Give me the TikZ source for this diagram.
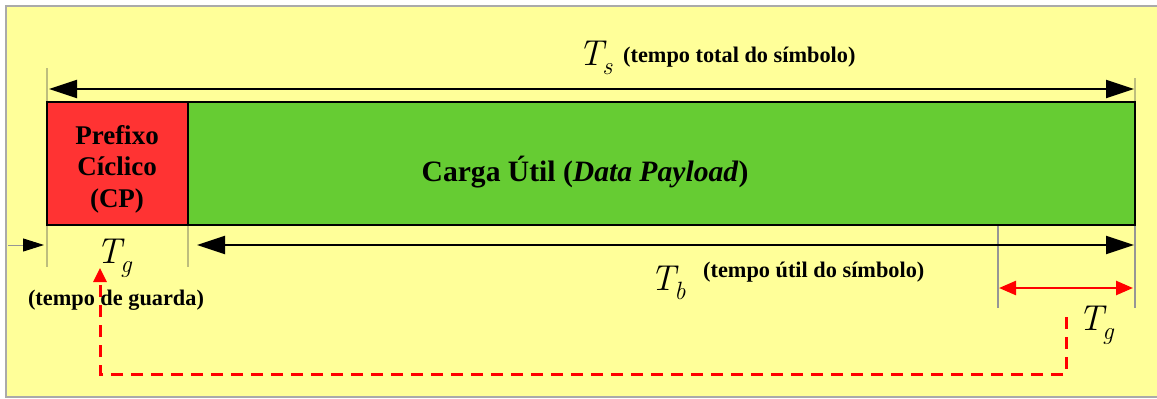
\documentclass[tikz,border=0pt]{standalone}
\usepackage{fontspec}
\setmainfont{Liberation Serif}
\newfontfamily\timesfont{Liberation Serif}
\newfontfamily\lmfont{Latin Modern Roman}
\usetikzlibrary{arrows.meta}
\definecolor{bgyellow}{RGB}{255,255,153}
\definecolor{cpred}{RGB}{255,51,51}
\definecolor{paygreen}{RGB}{102,204,51}
\definecolor{tickol}{RGB}{190,190,125}
\definecolor{tickgr}{RGB}{150,150,150}
\definecolor{framegr}{RGB}{170,170,170}
\newcommand{\symT}[1]{{\lmfont\itshape\fontsize{36}{40}\selectfont T\kern-1pt\raisebox{-9pt}{\fontsize{25}{28}\selectfont #1}}}
\tikzset{
  blockbox/.style={draw=black, line width=2pt, inner sep=0pt, outer sep=0pt, anchor=north west},
  bigarrow/.style={line width=2pt, {Triangle[length=28pt,width=18pt]}-{Triangle[length=28pt,width=18pt]}},
  tickline/.style={line width=1.3pt, color=tickol},
  tickgray/.style={line width=1.3pt, color=tickgr},
  redarrow/.style={red, line width=2.5pt, {Triangle[length=17pt,width=14pt]}-{Triangle[length=17pt,width=14pt]}},
  reddash/.style={red, line width=3pt, dash pattern=on 12pt off 8pt, -{Triangle[length=14pt,width=13pt]}},
  mathlbl/.style={inner sep=0pt, anchor=base west},
  smalllbl/.style={inner sep=0pt, font=\timesfont\fontsize{22.3}{25}\selectfont\bfseries},
}
\begin{document}
\begin{tikzpicture}[x=1pt,y=-1pt]
\useasboundingbox (0,0) rectangle (1157,399);
\fill[white] (0,0) rectangle (1157,399);
\fill[bgyellow] (6,6) rectangle (1157,397);
\draw[framegr, line width=1.5pt] (1157,6) -- (6,6) -- (6,397) -- (1157,397);

% blocks
\node[blockbox, fill=cpred, minimum width=141pt, minimum height=123pt] (cp) at (47,102) {};
\node[blockbox, fill=paygreen, minimum width=947pt, minimum height=123pt] (pay) at (188,102) {};
\node[inner sep=0pt, align=center, font=\timesfont\fontsize{27}{31.5}\selectfont\bfseries] (cpt) at (117,169)
      {Prefixo\\Cíclico\\(CP)};
\node[inner sep=0pt, font=\timesfont\fontsize{29.6}{32}\selectfont\bfseries] (payt) at (585,172)
      {Carga Útil (\textit{Data Payload})};

% coordinates
\coordinate (tsL) at (49,89);
\coordinate (tsR) at (1134,89);
\coordinate (tA1) at (47,68);  \coordinate (tA2) at (47,101);
\coordinate (tB1) at (1135,78); \coordinate (tB2) at (1135,101);
\coordinate (u1a) at (47,226);  \coordinate (u1b) at (47,267);
\coordinate (u2a) at (188,226); \coordinate (u2b) at (188,267);
\coordinate (u3a) at (998,226); \coordinate (u3b) at (998,308);
\coordinate (u4a) at (1135,226);\coordinate (u4b) at (1135,308);
\coordinate (tbL) at (197,245);
\coordinate (tbR) at (1134,245);
\coordinate (smL) at (8,245);
\coordinate (smR) at (44,245);
\coordinate (rgL) at (999,288);
\coordinate (rgR) at (1133,288);
\coordinate (d1) at (1066,317);
\coordinate (d2) at (1066,374);
\coordinate (d3) at (100,374);
\coordinate (d4) at (100,268);

% ticks
\draw[tickline] (tA1) -- (tA2);
\draw[tickline] (tB1) -- (tB2);
\draw[tickline] (u1a) -- (u1b);
\draw[tickline] (u2a) -- (u2b);
\draw[tickgray] (u3a) -- (u3b);
\draw[tickgray] (u4a) -- (u4b);

% arrows
\draw[bigarrow] (tsL) -- (tsR);
\draw[bigarrow] (tbL) -- (tbR);
\draw[tickgr, line width=1pt, -{Triangle[length=21pt,width=13pt,black]}] (smL) -- (smR);
\draw[redarrow] (rgL) -- (rgR);
\draw[reddash] (d1) -- (d2) -- (d3) -- (d4);

% labels
\node[mathlbl] (ts) at (578,65) {\symT{s}};
\node[smalllbl, anchor=west] (tsl) at (623,57) {(tempo total do símbolo)};
\node[mathlbl] (tb) at (650,290) {\symT{b}};
\node[smalllbl, anchor=west] (tbl) at (703,272) {(tempo útil do símbolo)};
\node[mathlbl] (tg1) at (96,263) {\symT{g}};
\node[smalllbl] (tgl) at (116,300) {(tempo de guarda)};
\node[mathlbl] (tg2) at (1078,330) {\symT{g}};
\end{tikzpicture}
\end{document}
